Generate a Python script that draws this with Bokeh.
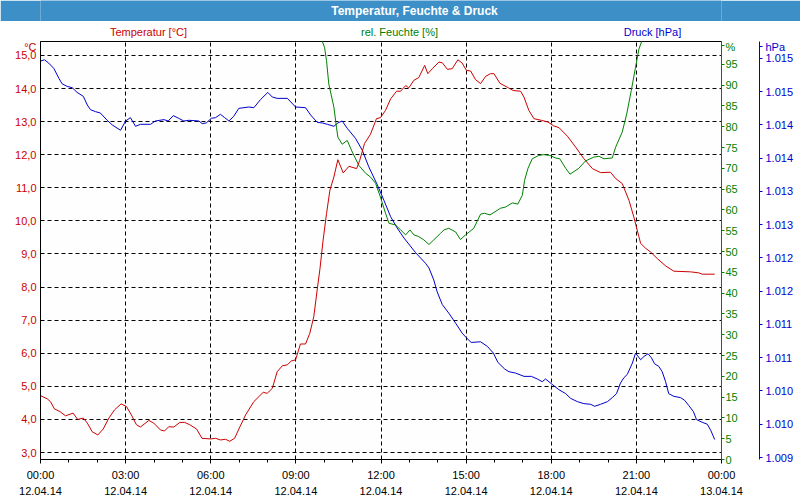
from bokeh.plotting import figure
from bokeh.models import Range1d, LinearAxis, FixedTicker, Label, ColumnDataSource
from bokeh.layouts import column
from bokeh.embed import file_html
from bokeh.resources import INLINE

# ---------------- data ----------------
title_text = "Temperatur, Feuchte & Druck"

temp_hours = [0.00, 0.24, 0.35, 0.49, 0.68, 0.88, 1.15, 1.31, 1.51, 1.65, 1.82, 2.02, 2.21, 2.41,
              2.61, 2.84, 3.03, 3.20, 3.38, 3.52, 3.82, 3.99, 4.23, 4.37, 4.52, 4.70, 4.91, 5.08,
              5.26, 5.50, 5.69, 5.99, 6.17, 6.34, 6.52, 6.67, 6.84, 7.03, 7.23, 7.52, 7.85, 7.99,
              8.17, 8.34, 8.52, 8.70, 8.84, 8.99, 9.16, 9.34, 9.49, 9.63, 9.75, 9.85, 9.96, 10.08,
              10.20, 10.34, 10.48, 10.67, 10.87, 11.14, 11.25, 11.42, 11.63, 11.84, 11.98, 12.16,
              12.34, 12.55, 12.69, 12.87, 12.98, 13.16, 13.33, 13.54, 13.65, 13.81, 14.04, 14.16,
              14.34, 14.51, 14.71, 14.86, 15.01, 15.16, 15.33, 15.51, 15.69, 15.86, 15.98, 16.19,
              16.45, 16.66, 16.92, 17.04, 17.21, 17.39, 17.65, 17.88, 18.09, 18.27, 18.57, 18.86,
              19.15, 19.45, 19.74, 20.09, 20.27, 20.50, 20.74, 20.91, 21.09, 21.15, 21.33, 21.50,
              21.74, 22.03, 22.32, 22.91, 23.20, 23.32, 23.76]
temp_values = [4.72, 4.62, 4.54, 4.32, 4.24, 4.11, 4.19, 4.00, 4.04, 3.89, 3.63, 3.53, 3.71, 4.04,
               4.29, 4.47, 4.39, 4.14, 3.84, 3.77, 3.97, 3.89, 3.68, 3.65, 3.78, 3.77, 3.91, 3.91,
               3.84, 3.71, 3.43, 3.41, 3.43, 3.38, 3.40, 3.34, 3.43, 3.78, 4.14, 4.54, 4.82, 4.79,
               4.94, 5.44, 5.62, 5.65, 5.77, 5.80, 6.28, 6.28, 6.60, 7.10, 7.91, 8.56, 9.42, 10.22,
               10.93, 11.33, 11.85, 11.45, 11.65, 11.58, 11.83, 12.34, 12.62, 13.09, 13.12, 13.34,
               13.69, 13.92, 13.92, 14.09, 14.02, 14.25, 14.33, 14.70, 14.45, 14.60, 14.80, 14.78,
               14.58, 14.60, 14.87, 14.77, 14.55, 14.53, 14.27, 14.15, 14.37, 14.45, 14.45, 14.16,
               14.04, 13.94, 13.92, 13.74, 13.34, 13.09, 13.04, 12.99, 12.87, 12.82, 12.56, 12.23,
               11.88, 11.58, 11.46, 11.47, 11.28, 11.13, 10.62, 10.12, 9.52, 9.32, 9.17, 9.06,
               8.86, 8.64, 8.48, 8.46, 8.43, 8.39, 8.39]

hum_hours = [9.80, 10.01, 10.08, 10.16, 10.34, 10.43, 10.48, 10.63, 10.81, 10.99, 11.22, 11.46,
             11.63, 11.81, 11.98, 12.16, 12.28, 12.51, 12.69, 12.87, 13.02, 13.16, 13.33, 13.51,
             13.69, 13.86, 14.10, 14.22, 14.39, 14.63, 14.80, 14.98, 15.27, 15.51, 15.65, 15.84,
             16.21, 16.39, 16.63, 16.82, 16.98, 17.06, 17.18, 17.33, 17.56, 17.74, 17.95, 18.15,
             18.30, 18.51, 18.66, 18.97, 19.21, 19.50, 19.68, 19.86, 20.15, 20.27, 20.50, 20.66,
             20.82, 20.97, 21.09, 21.32]
hum_values = [103.0, 99.1, 95.9, 90.3, 84.7, 79.9, 77.5, 75.8, 76.7, 73.9, 70.7, 68.8,
              67.9, 66.4, 63.1, 59.2, 56.8, 56.4, 55.2, 54.0, 55.2, 54.0, 53.6, 52.8,
              51.7, 52.8, 54.4, 55.2, 55.6, 54.7, 52.9, 54.0, 55.6, 59.0, 59.2, 58.8,
              60.4, 60.7, 61.7, 61.4, 63.5, 67.1, 70.0, 72.3, 73.1, 73.3, 73.1, 72.5,
              72.3, 70.0, 68.6, 70.0, 71.8, 72.7, 72.9, 72.3, 72.5, 75.1, 78.7, 83.1,
              88.7, 94.3, 98.7, 103.0]

pres_hours = [0.00, 0.14, 0.29, 0.47, 0.65, 0.76, 0.94, 1.12, 1.29, 1.51, 1.65, 1.76, 1.94, 2.11,
              2.35, 2.53, 2.82, 3.00, 3.17, 3.35, 3.52, 3.88, 4.05, 4.35, 4.50, 4.68, 4.87, 5.05,
              5.23, 5.58, 5.70, 5.84, 6.02, 6.17, 6.34, 6.49, 6.64, 6.81, 6.99, 7.17, 7.34, 7.52,
              7.75, 8.01, 8.17, 8.34, 8.70, 8.99, 9.34, 9.52, 9.75, 9.93, 10.11, 10.34, 10.48,
              10.63, 10.81, 11.10, 11.34, 11.57, 11.87, 12.10, 12.34, 12.57, 12.81, 13.22, 13.57,
              13.69, 13.86, 13.98, 14.16, 14.39, 14.63, 14.86, 15.01, 15.18, 15.51, 15.75, 15.96,
              16.12, 16.36, 16.51, 16.74, 17.04, 17.30, 17.51, 17.68, 17.80, 18.00, 18.27, 18.51,
              18.68, 18.92, 19.15, 19.39, 19.53, 19.74, 19.98, 20.15, 20.30, 20.44, 20.56, 20.68,
              20.86, 20.97, 21.15, 21.27, 21.41, 21.53, 21.64, 21.79, 21.91, 22.03, 22.14, 22.32,
              22.56, 22.70, 22.85, 23.01, 23.12, 23.32, 23.50, 23.62, 23.76]
pres_values = [1.01496, 1.01498, 1.01493, 1.01485, 1.01470, 1.01462, 1.01458, 1.01456, 1.01449,
               1.01443, 1.01430, 1.01423, 1.01420, 1.01418, 1.01407, 1.01400, 1.01392, 1.01406,
               1.01411, 1.01398, 1.01401, 1.01401, 1.01406, 1.01408, 1.01406, 1.01414, 1.01410,
               1.01406, 1.01407, 1.01406, 1.01402, 1.01403, 1.01410, 1.01411, 1.01416, 1.01411,
               1.01406, 1.01413, 1.01425, 1.01426, 1.01427, 1.01426, 1.01438, 1.01449, 1.01442,
               1.01440, 1.01440, 1.01427, 1.01426, 1.01415, 1.01404, 1.01403, 1.01401, 1.01398,
               1.01403, 1.01406, 1.01395, 1.01380, 1.01362, 1.01337, 1.01310, 1.01287, 1.01262,
               1.01245, 1.01230, 1.01208, 1.01192, 1.01185, 1.01167, 1.01149, 1.01130, 1.01117,
               1.01102, 1.01087, 1.01080, 1.01073, 1.01074, 1.01067, 1.01057, 1.01043, 1.01033,
               1.01029, 1.01027, 1.01022, 1.01022, 1.01018, 1.01014, 1.01018, 1.01011, 1.01002,
               1.00996, 1.00989, 1.00984, 1.00981, 1.00980, 1.00977, 1.00980, 1.00984, 1.00990,
               1.00996, 1.01012, 1.01020, 1.01025, 1.01042, 1.01057, 1.01047, 1.01052, 1.01056,
               1.01050, 1.01041, 1.01037, 1.01029, 1.01014, 1.00996, 1.00992, 1.00990, 1.00986,
               1.00978, 1.00969, 1.00957, 1.00953, 1.00950, 1.00941, 1.00927]

x_ticks = [0, 3, 6, 9, 12, 15, 18, 21, 24]
x_tick_labels = ["00:00\n12.04.14", "03:00\n12.04.14", "06:00\n12.04.14", "09:00\n12.04.14",
                 "12:00\n12.04.14", "15:00\n12.04.14", "18:00\n12.04.14", "21:00\n12.04.14",
                 "00:00\n13.04.14"]
x_minor_ticks = list(range(0, 25))

temp_ticks = [3, 4, 5, 6, 7, 8, 9, 10, 11, 12, 13, 14, 15]
temp_tick_labels = ["3,0", "4,0", "5,0", "6,0", "7,0", "8,0", "9,0", "10,0", "11,0", "12,0",
                    "13,0", "14,0", "15,0"]

hum_ticks = [0, 5, 10, 15, 20, 25, 30, 35, 40, 45, 50, 55, 60, 65, 70, 75, 80, 85, 90, 95]
hum_tick_labels = [str(v) for v in hum_ticks]

pres_ticks = [1.009, 1.0095, 1.010, 1.0105, 1.011, 1.0115, 1.012, 1.0125, 1.013, 1.0135,
              1.014, 1.0145, 1.015]
pres_tick_labels = ["1.009", "1.010", "1.010", "1.011", "1.011", "1.012", "1.012", "1.013",
                    "1.013", "1.014", "1.014", "1.015", "1.015"]

series_names = ["Temperatur [°C]", "rel. Feuchte [%]", "Druck [hPa]"]
unit_names = ["°C", "%", "hPa"]

# ---------------- style / layout constants ----------------
RED = "#cc0000"
GREEN = "#008000"
BLUE = "#0000cc"
BAND = "#3d8fc7"
FONT = "Liberation Sans"
FS = "11px"
W = 800
FRAME_L, FRAME_R = 40, 721          # frame edges in page pixels (strips share them)
BAND_H, HEAD_H = 21, 19

# unit captions sit at the top end of each axis, as an extra labelled position
UNIT_POS_TEMP = 15.27
UNIT_POS_HUM = 99.6
UNIT_POS_PRES = 1.01518


def strip(height, fill, y0, y1):
    f = figure(width=W, height=height, x_range=Range1d(FRAME_L, FRAME_R), y_range=Range1d(y1, y0),
               min_border=0, toolbar_location=None, output_backend="svg")
    f.axis.visible = False
    f.grid.visible = False
    f.outline_line_color = None
    f.background_fill_color = fill
    f.border_fill_color = fill
    return f


# title band (page pixel coordinates)
tf = strip(BAND_H, BAND, 0, BAND_H)
tf.add_layout(Label(x=414, y=10.5, text=title_text, text_align="center",
                    text_baseline="middle", text_color="white", text_font=FONT,
                    text_font_size="12px", text_font_style="bold"))

# series header row (page pixel coordinates)
hf = strip(HEAD_H, "white", BAND_H, BAND_H + HEAD_H)
for txt, xc, col in zip(series_names, [148, 399, 652], [RED, GREEN, BLUE]):
    hf.add_layout(Label(x=xc, y=31, text=txt, text_align="center", text_baseline="middle",
                        text_color=col, text_font=FONT, text_font_size=FS))

# ---------- main chart ----------
p = figure(width=W, height=500 - BAND_H - HEAD_H, x_range=Range1d(0, 24),
           y_range=Range1d(2.789, 15.422), toolbar_location=None, output_backend="svg",
           min_border_left=40, min_border_right=79, min_border_top=1, min_border_bottom=40)
p.extra_y_ranges = {"hum": Range1d(0, 100.5), "pres": Range1d(1.00897, 1.015255)}
p.background_fill_color = "#fdfefd"
p.border_fill_color = "white"
p.outline_line_color = "black"
p.outline_line_width = 1

# x axis
xa = p.xaxis[0]
xa.ticker = FixedTicker(ticks=x_ticks, minor_ticks=x_minor_ticks)
xa.major_label_overrides = {float(t): l for t, l in zip(x_ticks, x_tick_labels)}
xa.axis_line_color = "black"
xa.major_tick_line_color = "black"
xa.minor_tick_line_color = "black"
xa.major_tick_out = 4
xa.major_tick_in = 0
xa.minor_tick_out = 3
xa.minor_tick_in = 0
xa.major_label_standoff = 5
xa.major_label_text_font = FONT
xa.major_label_text_font_size = FS
xa.major_label_text_line_height = 1.4
xa.major_label_text_color = "black"

# left temperature axis (+ unit caption at the top)
ya = p.yaxis[0]
ya.ticker = FixedTicker(ticks=temp_ticks + [UNIT_POS_TEMP])
ya.major_label_overrides = {float(t): l for t, l in
                            zip(temp_ticks + [UNIT_POS_TEMP], temp_tick_labels + [unit_names[0]])}
ya.axis_line_color = "black"
ya.major_tick_line_color = None
ya.minor_tick_line_color = None
ya.major_tick_out = 0
ya.major_tick_in = 0
ya.major_label_standoff = 4
ya.major_label_text_font = FONT
ya.major_label_text_font_size = FS
ya.major_label_text_color = RED

# grids
p.xgrid.ticker = FixedTicker(ticks=x_ticks)
p.ygrid.ticker = FixedTicker(ticks=temp_ticks)
for g in (p.xgrid[0], p.ygrid[0]):
    g.grid_line_color = "black"
    g.grid_line_dash = "4 3"
    g.grid_line_width = 1

# right humidity axis (+ unit caption)
ha = LinearAxis(y_range_name="hum", ticker=FixedTicker(ticks=hum_ticks + [UNIT_POS_HUM]))
ha.major_label_overrides = {float(t): l for t, l in
                            zip(hum_ticks + [UNIT_POS_HUM], hum_tick_labels + [unit_names[1]])}
ha.axis_line_color = GREEN
ha.major_tick_line_color = GREEN
ha.minor_tick_line_color = None
ha.major_tick_out = 3
ha.major_tick_in = 0
ha.major_label_standoff = 1
ha.major_label_text_font = FONT
ha.major_label_text_font_size = FS
ha.major_label_text_color = GREEN
p.add_layout(ha, "right")

# spacer axis: one invisible tick, no line, no label -> pushes pressure axis outward
sp = LinearAxis(y_range_name="hum", ticker=FixedTicker(ticks=[50]))
sp.axis_line_color = None
sp.major_tick_line_color = "white"
sp.minor_tick_line_color = None
sp.major_tick_out = 19
sp.major_tick_in = 0
sp.major_label_standoff = 0
sp.major_label_text_color = None
sp.major_label_text_font_size = "1px"
p.add_layout(sp, "right")

# right pressure axis (+ unit caption)
pa = LinearAxis(y_range_name="pres", ticker=FixedTicker(ticks=pres_ticks + [UNIT_POS_PRES]))
pa.major_label_overrides = {float(t): l for t, l in
                            zip(pres_ticks + [UNIT_POS_PRES], pres_tick_labels + [unit_names[2]])}
pa.axis_line_color = BLUE
pa.major_tick_line_color = BLUE
pa.minor_tick_line_color = None
pa.major_tick_out = 3
pa.major_tick_in = 0
pa.major_label_standoff = 3
pa.major_label_text_font = FONT
pa.major_label_text_font_size = FS
pa.major_label_text_color = BLUE
p.add_layout(pa, "right")

# lines
p.line(x="h", y="v", source=ColumnDataSource(dict(h=pres_hours, v=pres_values)),
       y_range_name="pres", line_color=BLUE, line_width=1)
p.line(x="h", y="v", source=ColumnDataSource(dict(h=hum_hours, v=hum_values)),
       y_range_name="hum", line_color=GREEN, line_width=1)
p.line(x="h", y="v", source=ColumnDataSource(dict(h=temp_hours, v=temp_values)),
       line_color=RED, line_width=1)

layout = column(tf, hf, p, spacing=0)
open("out.html", "w").write(file_html(layout, INLINE))
